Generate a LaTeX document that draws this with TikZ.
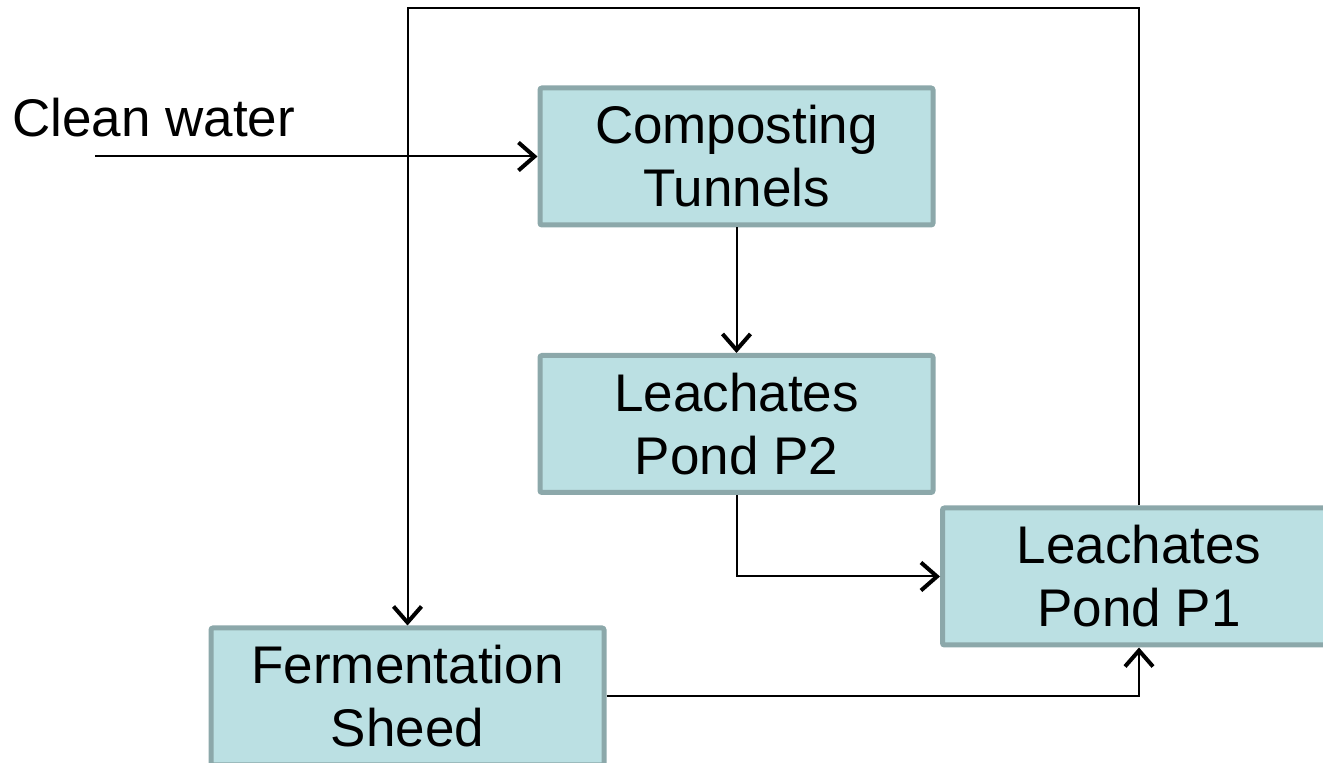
\documentclass[tikz,border=0pt]{standalone}
\usepackage{fontspec}
\setmainfont{Liberation Sans}
\usetikzlibrary{arrows.meta}

\definecolor{pondfill}{RGB}{187,224,227}
\definecolor{ponddraw}{RGB}{140,168,170}

\begin{document}
\begin{tikzpicture}[x=0.5pt,y=-0.5pt,
  stage/.style={draw=ponddraw, fill=pondfill, line width=2.5pt, rounded corners=1pt,
    minimum width=196.5pt, minimum height=68.5pt, align=center, inner sep=0pt,
    font=\fontsize{26.5}{31.5}\selectfont},
  flow/.style={black, line width=1pt, -{Straight Barb[length=8pt, width=14pt, line width=2pt]}}]
\useasboundingbox (0,0) rectangle (1323,763);
\node[stage] (comp) at (736.5,156.5) {Composting\\Tunnels};
\node[stage] (p2) at (736.5,424) {Leachates\\Pond P2};
\node[stage] (p1) at (1139,576.5) {Leachates\\Pond P1};
\node[stage] (ferm) at (407.5,696.5) {Fermentation\\Sheed};
\node[anchor=west, inner sep=0pt, font=\fontsize{26.5}{31.5}\selectfont] (water) at (12,118) {Clean water};
\coordinate (cw) at (95,156.5);
\coordinate (loop) at (0,8);
\draw[flow] (cw) -- (comp.west);
\draw[flow] (comp.south) -- (p2.north);
\draw[flow] (p2.south) |- (p1.west);
\draw[flow] (ferm.east) -| (p1.south);
\draw[flow] (p1.north) |- (loop -| ferm.north) -- (ferm.north);
\end{tikzpicture}
\end{document}
